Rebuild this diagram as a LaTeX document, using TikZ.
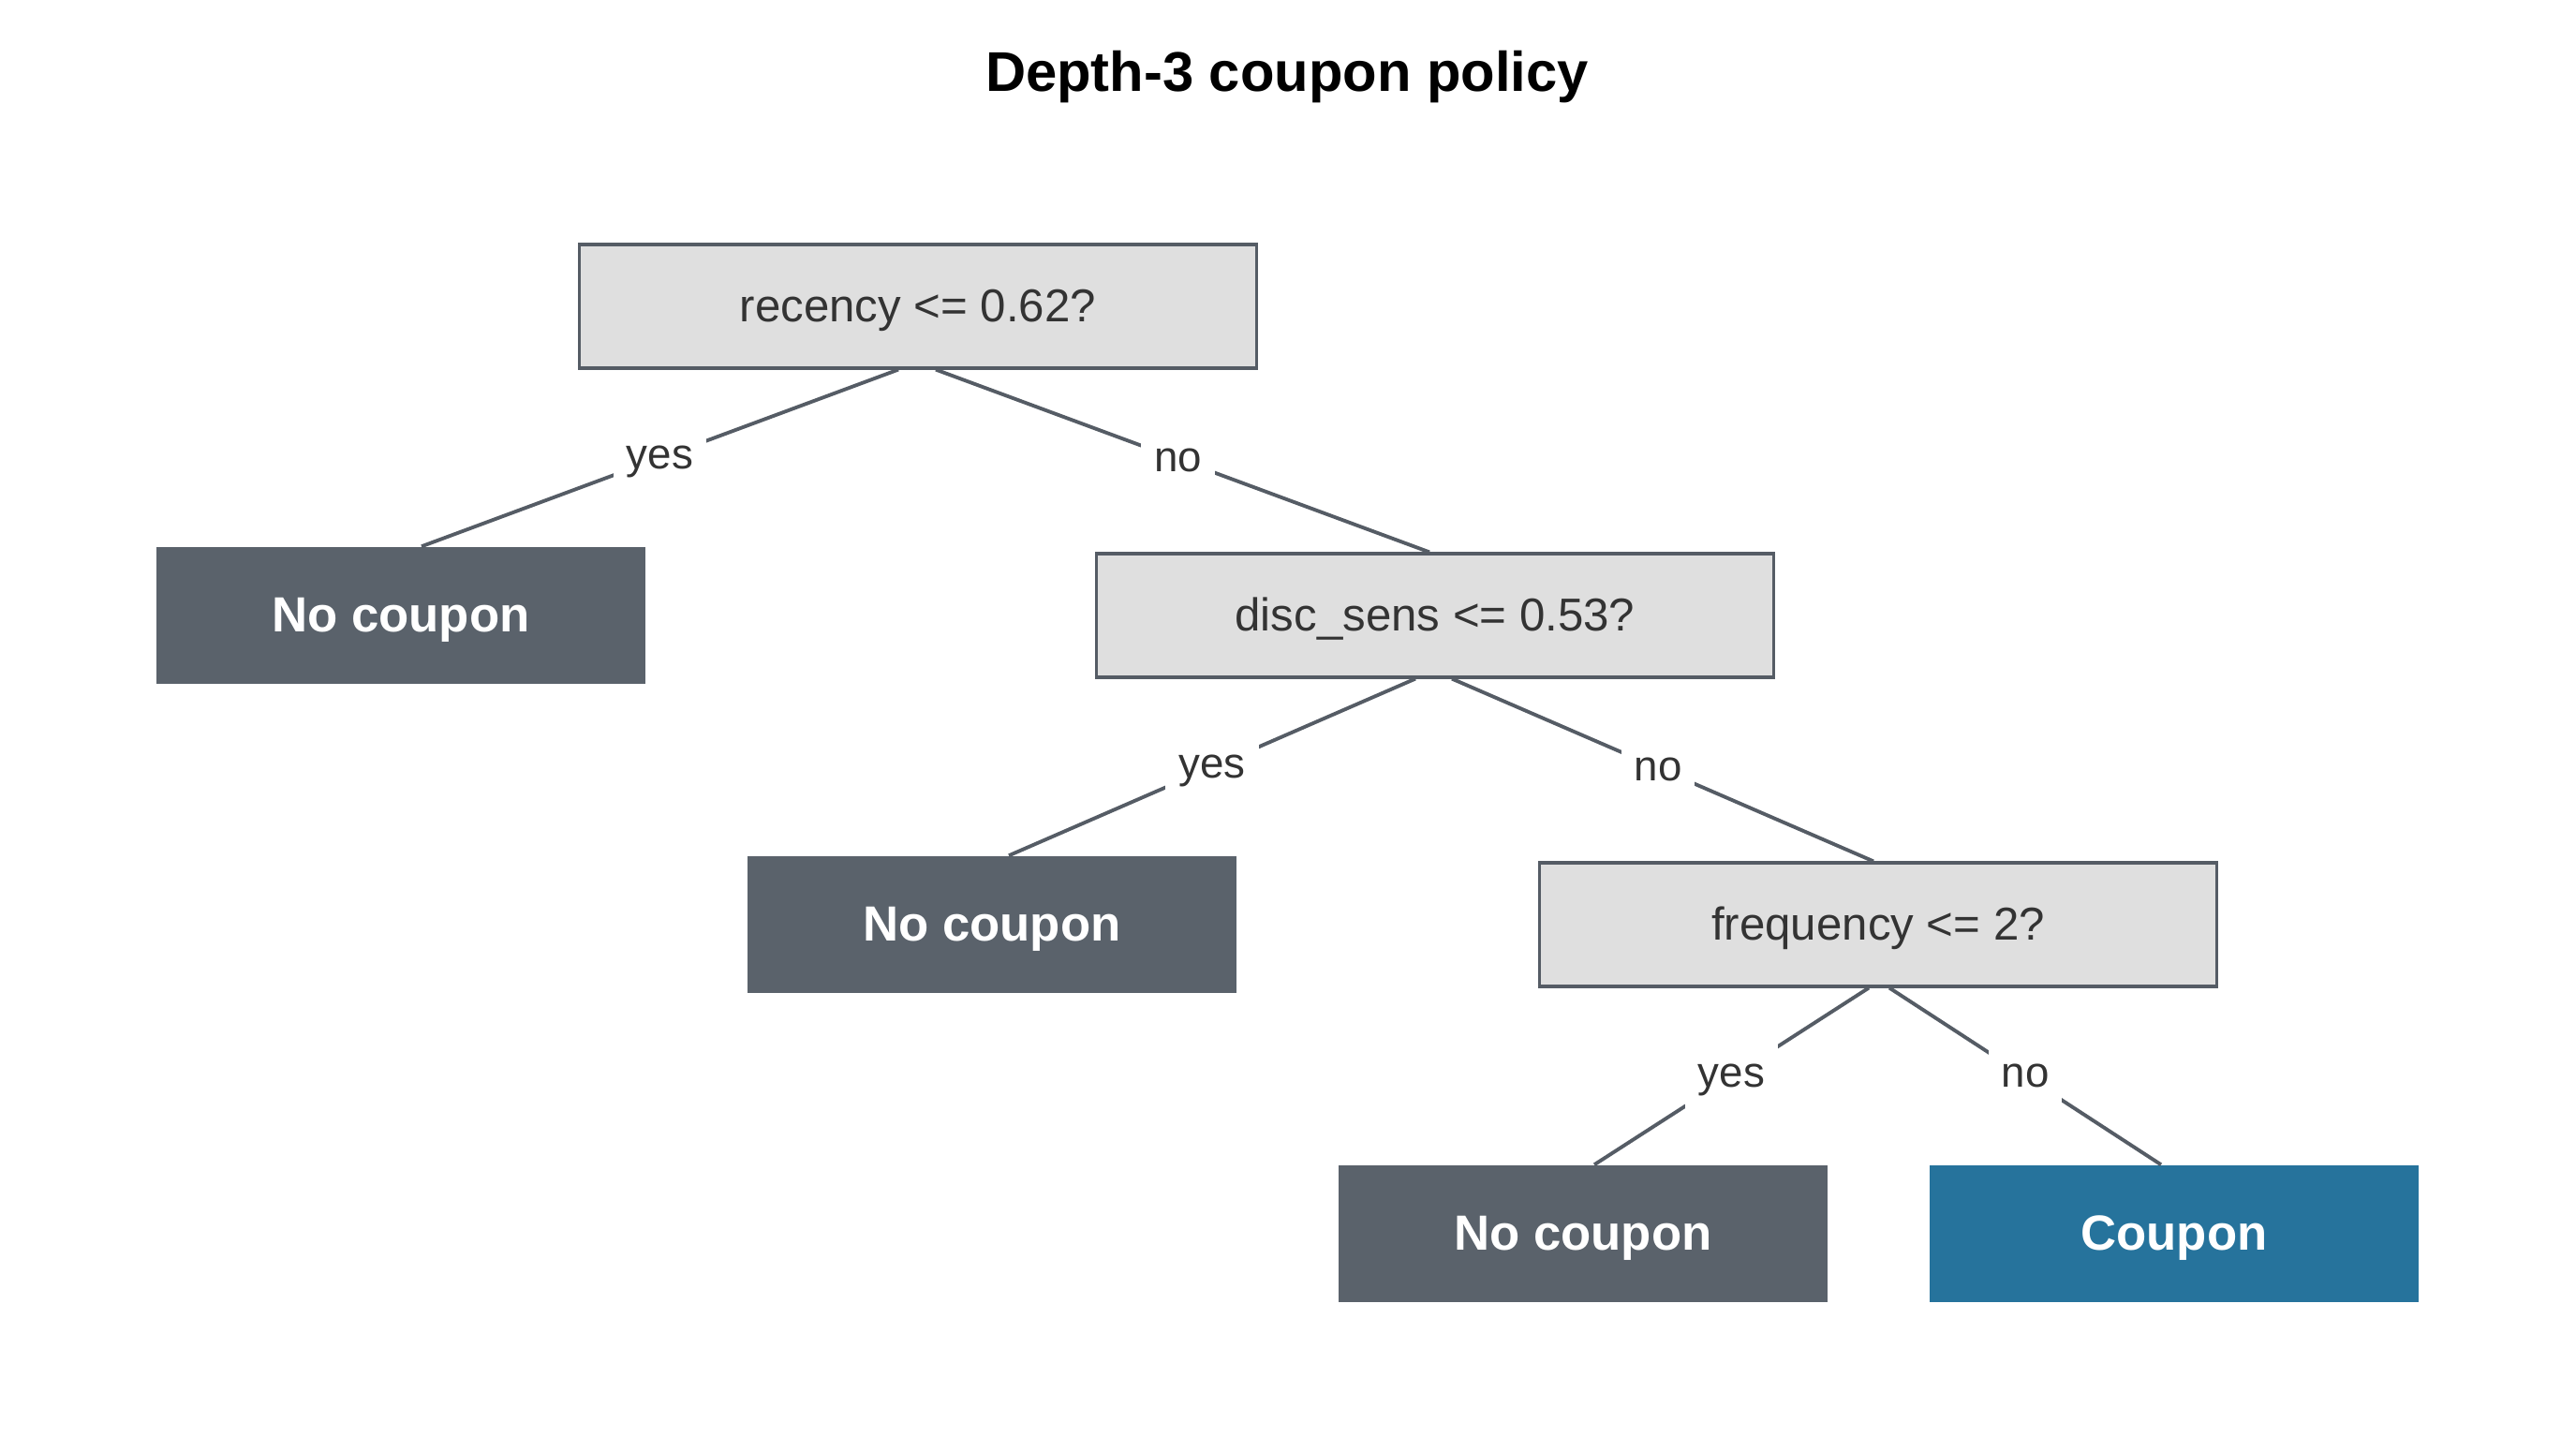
\documentclass[tikz,border=0pt]{standalone}
\usepackage{fontspec}
\setmainfont{Liberation Sans}
\definecolor{splitfill}{HTML}{DFDFDF}
\definecolor{edgegray}{HTML}{555C65}
\definecolor{leafgray}{HTML}{5A626B}
\definecolor{leafblue}{HTML}{26739C}
\definecolor{txtdark}{HTML}{333333}

\begin{document}
\begin{tikzpicture}[
    split/.style={draw=edgegray, line width=0.9pt, fill=splitfill, text=txtdark,
      minimum width=7.23cm, minimum height=1.32cm, text height=12.2pt, text depth=2.9pt,
      font=\fontsize{14}{17}\selectfont},
    leaf/.style={fill=leafgray, text=white, minimum width=5.22cm, minimum height=1.46cm,
      text height=12.9pt, text depth=3.1pt, font=\fontsize{15}{18}\selectfont\bfseries},
    branch/.style={draw=edgegray, line width=1.1pt},
    answer/.style={fill=white, text=txtdark, inner sep=4pt, text height=9.5pt, text depth=2.7pt,
      font=\fontsize{13}{15}\selectfont}]
            \useasboundingbox (0,0) rectangle (27.5,15.5);
            \node[font=\fontsize{17}{20}\selectfont\bfseries] (title) at (13.74,14.68) {Depth-3 coupon policy};
            % tree
            \node[split] (root) at (9.80,12.23) {recency <= 0.62?};
            \node[leaf] (leafA) at (4.28,8.93) {No coupon};
            \node[split] (disc) at (15.32,8.93) {disc\_sens <= 0.53?};
            \node[leaf] (leafB) at (10.59,5.63) {No coupon};
            \node[split] (freq) at (20.05,5.63) {frequency <= 2?};
            \node[leaf] (leafC) at (16.90,2.33) {No coupon};
            \node[leaf, fill=leafblue] (leafD) at (23.21,2.33) {Coupon};
            \draw[branch] ([xshift=-0.21cm]root.south) -- node[answer] (yesA) {yes} ([xshift=0.22cm]leafA.north);
            \draw[branch] ([xshift=0.19cm]root.south) -- node[answer, xshift=-0.05cm] (noA) {no} ([xshift=-0.06cm]disc.north);
            \draw[branch] ([xshift=-0.21cm]disc.south) -- node[answer] (yesB) {yes} ([xshift=0.18cm]leafB.north);
            \draw[branch] ([xshift=0.18cm]disc.south) -- node[answer, xshift=-0.05cm] (noB) {no} ([xshift=-0.05cm]freq.north);
            \draw[branch] ([xshift=-0.10cm]freq.south) -- node[answer] (yesC) {yes} ([xshift=0.12cm]leafC.north);
            \draw[branch] ([xshift=0.12cm]freq.south) -- node[answer] (noC) {no} ([xshift=-0.14cm]leafD.north);
        \end{tikzpicture}
\end{document}
